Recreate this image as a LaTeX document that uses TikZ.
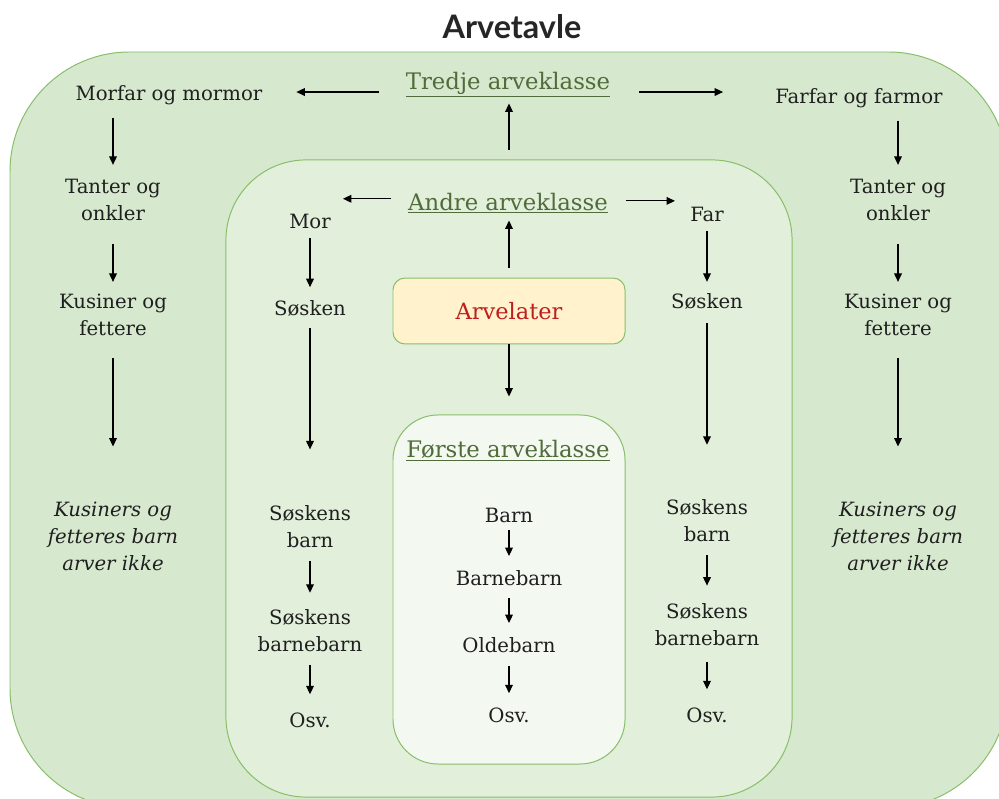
\documentclass[tikz,border=0pt]{standalone}
\usepackage{fontspec}
\setmainfont{DejaVu Serif}
\newfontfamily\titlefont{Lato}
\usetikzlibrary{arrows.meta}
\definecolor{ytre}{RGB}{214,232,206}
\definecolor{midt}{RGB}{226,239,219}
\definecolor{indre}{RGB}{243,248,240}
\definecolor{kant}{RGB}{135,190,105}
\definecolor{gul}{RGB}{255,242,204}
\definecolor{overskrift}{RGB}{80,108,58}
\definecolor{rod}{RGB}{190,30,30}
\tikzset{
  person/.style={align=center, inner sep=0pt, text=black!88, font=\fontsize{14}{19.2}\selectfont},
  klasse/.style={inner sep=0pt, text=overskrift, font=\fontsize{16.2}{19}\selectfont},
  ramme/.style={draw=kant, line width=0.7pt},
  pil/.style={-{Triangle[length=6pt,width=5.5pt]}, line width=0.75pt, shorten <=9pt, shorten >=10pt},
}
\begin{document}
\begin{tikzpicture}[x=0.025cm, y=-0.025cm]
\useasboundingbox (0,0) rectangle (999,799);
% rammer
\filldraw[ramme, fill=ytre, rounded corners=85pt] (10,52) rectangle (1008,808);
\node[ramme, fill=midt, rounded corners=57pt, minimum width=402.6pt, minimum height=453.1pt] (andreboks) at (509,478.5) {};
\node[ramme, fill=indre, rounded corners=32pt, minimum width=165pt, minimum height=248.2pt] (forsteboks) at (509,589.5) {};
\node[ramme, fill=gul, rounded corners=8.5pt, minimum width=165pt, minimum height=46.9pt, text=rod, font=\fontsize{16}{19}\selectfont] (arvelater) at (509,311) {Arvelater};
% tittel
\node[font=\titlefont\bfseries\fontsize{23}{27}\selectfont, text=black!85] (tittel) at (512,27) {Arvetavle};
% arveklasser
\node[klasse] (tredje) at (508,85) {\underline{Tredje arveklasse}};
\node[klasse] (andre) at (508,203) {\underline{Andre arveklasse}};
\node[klasse] (forste) at (508,451) {\underline{Første arveklasse}};
% tredje arveklasse
\node[person] (morfar) at (169,95) {Morfar og mormor};
\node[person] (tanterV) at (113,200) {Tanter og\\onkler};
\node[person] (kusinerV) at (113,315) {Kusiner og\\fettere};
\node[person, font=\fontsize{14}{19.2}\selectfont\itshape] (barnV) at (113,536) {Kusiners og\\fetteres barn\\arver ikke};
\node[person] (farfar) at (859,98) {Farfar og farmor};
\node[person] (tanterH) at (898,200) {Tanter og\\onkler};
\node[person] (kusinerH) at (898,315) {Kusiner og\\fettere};
\node[person, font=\fontsize{14}{19.2}\selectfont\itshape] (barnH) at (898,536) {Kusiners og\\fetteres barn\\arver ikke};
% andre arveklasse
\node[person] (mor) at (310,221) {Mor};
\node[person] (soskenV) at (310,308) {Søsken};
\node[person] (sbarnV) at (310,527) {Søskens\\barn};
\node[person] (sbbarnV) at (310,631) {Søskens\\barnebarn};
\node[person] (osvV) at (310,720) {Osv.};
\node[person] (far) at (707,214) {Far};
\node[person] (soskenH) at (707,301) {Søsken};
\node[person] (sbarnH) at (707,521) {Søskens\\barn};
\node[person] (sbbarnH) at (707,625) {Søskens\\barnebarn};
\node[person] (osvH) at (707,715) {Osv.};
% første arveklasse
\node[person] (barn) at (509,515) {Barn};
\node[person] (barnebarn) at (509,578) {Barnebarn};
\node[person] (oldebarn) at (509,645) {Oldebarn};
\node[person] (osvM) at (509,715) {Osv.};
% piler
\draw[pil, shorten <=19pt, shorten >=24pt] ([yshift=-5pt]tredje.west) -- ([yshift=-5pt]tredje.west -| morfar.east);
\draw[pil, shorten <=20.6pt, shorten >=37pt] ([yshift=-5pt]tredje.east) -- ([yshift=-5pt]tredje.east -| farfar.west);
\draw[pil, shorten <=7pt, shorten >=4pt] (andreboks.north) -- (andreboks.north |- tredje.south);
\draw[pil, shorten <=12pt, shorten >=8.5pt] ([yshift=3pt]andre.west) -- ([yshift=3pt]andre.west -| mor.east);
\draw[pil, shorten <=12.8pt, shorten >=10.7pt] ([yshift=1.5pt]andre.east) -- ([yshift=1.5pt]andre.east -| far.west);
\draw[pil, shorten <=7pt, shorten >=5pt] (arvelater.north) -- (arvelater.north |- andre.south);
\draw[pil, shorten <=0pt, shorten >=12.8pt] (arvelater) -- (forsteboks);
\draw[pil] (morfar.south -| tanterV) -- (tanterV);
\draw[pil, shorten <=16pt, shorten >=8.5pt] (tanterV) -- (kusinerV);
\draw[pil, shorten <=15.6pt, shorten >=39pt] (kusinerV) -- (barnV);
\draw[pil] (farfar.south -| tanterH) -- (tanterH);
\draw[pil, shorten <=16pt, shorten >=8.5pt] (tanterH) -- (kusinerH);
\draw[pil, shorten <=15.6pt, shorten >=39pt] (kusinerH) -- (barnH);
\draw[pil, shorten <=7pt, shorten >=9pt] (mor) -- (soskenV);
\draw[pil, shorten <=8.5pt, shorten >=40pt] (soskenV) -- (sbarnV);
\draw[pil, shorten >=12pt] (sbarnV) -- (sbbarnV);
\draw[pil, shorten >=12.8pt] (sbbarnV) -- (osvV);
\draw[pil, shorten <=7pt, shorten >=7.8pt] (far) -- (soskenH);
\draw[pil, shorten <=10pt, shorten >=39pt] (soskenH) -- (sbarnH);
\draw[pil, shorten >=12.8pt] (sbarnH) -- (sbbarnH);
\draw[pil, shorten <=11.4pt, shorten >=12.8pt] (sbbarnH) -- (osvH);
\draw[pil, shorten <=5pt] (barn) -- (barnebarn);
\draw[pil, shorten <=8.5pt] (barnebarn) -- (oldebarn);
\draw[pil] (oldebarn) -- (osvM);
\end{tikzpicture}
\end{document}
